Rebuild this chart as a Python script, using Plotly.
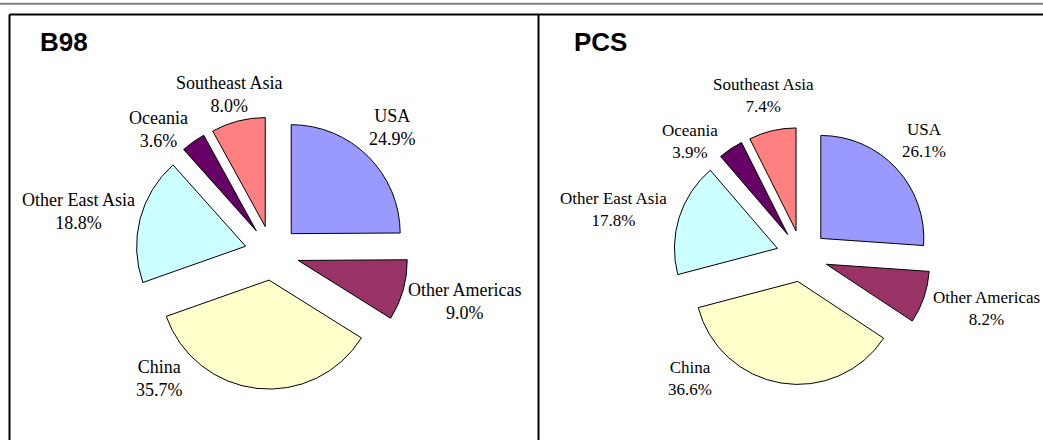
import math
import plotly.graph_objects as go

W, H = 1043, 440

regions = ["USA", "Other Americas", "China", "Other East Asia", "Oceania", "Southeast Asia"]
b98_share = [24.9, 9.0, 35.7, 18.8, 3.6, 8.0]
pcs_share = [26.1, 8.2, 36.6, 17.8, 3.9, 7.4]
slice_colors = ["#9999FF", "#993366", "#FFFFCC", "#CCFFFF", "#660066", "#FF8080"]
panel_titles = ["B98", "PCS"]

# ---- layout (pixels) ----
PULL = 0.25
panels = [
    dict(values=b98_share, title=panel_titles[0], cx=272, cy=253, r=109, font=18,
         title_x=38,
         lab_delta=[-0.8, -1.8, 35.6, -2.4, -7.3, -0.8],
         lab_dist=[174, 198, 168, 198, 168, 164]),
    dict(values=pcs_share, title=panel_titles[1], cx=802, cy=256, r=103, font=17,
         title_x=572,
         lab_delta=[-0.6, -3.0, 33.0, -3.5, -10.9, -0.1],
         lab_dist=[168, 192, 166, 194, 160, 165]),
]


def px_domain(cx, cy, r):
    half = r * (1 + PULL)
    return dict(x=[(cx - half) / W, (cx + half) / W],
                y=[1 - (cy + half) / H, 1 - (cy - half) / H])


fig = go.Figure()
annotations = []
for p in panels:
    vals = p["values"]
    fig.add_trace(go.Pie(
        labels=regions, values=vals, sort=False, direction="clockwise",
        rotation=0, pull=[PULL] * len(vals), automargin=False,
        marker=dict(colors=slice_colors, line=dict(color="black", width=1)),
        textinfo="none", hoverinfo="label+value", showlegend=False,
        domain=px_domain(p["cx"], p["cy"], p["r"]),
    ))
    # slice labels placed around each slice's mid-angle
    total = sum(vals)
    cum = 0.0
    for lab, v, dlt, dist in zip(regions, vals, p["lab_delta"], p["lab_dist"]):
        mid = (cum + v / 2) / total * 360.0
        cum += v
        ang = math.radians(mid + dlt)
        x = p["cx"] + dist * math.sin(ang)
        y = p["cy"] - dist * math.cos(ang)
        annotations.append(dict(
            text=f"{lab}<br>{v:.1f}%", xref="paper", yref="paper",
            x=x / W, y=1 - y / H, xanchor="center", yanchor="middle",
            align="center", showarrow=False,
            font=dict(family="Liberation Serif", size=p["font"], color="black")))
    annotations.append(dict(text=p["title"], xref="paper", yref="paper",
                            x=p["title_x"] / W, y=1 - 42 / H,
                            xanchor="left", yanchor="middle", showarrow=False,
                            font=dict(family="Liberation Sans", size=26,
                                      color="black", weight="bold")))

shapes = [
    dict(type="line", xref="paper", yref="paper", x0=0, x1=1,
         y0=1 - 3.8 / H, y1=1 - 3.8 / H, line=dict(color="#808080", width=2)),
    dict(type="line", xref="paper", yref="paper", x0=9.5 / W, x1=1,
         y0=1 - 14.5 / H, y1=1 - 14.5 / H, line=dict(color="black", width=2)),
    dict(type="line", xref="paper", yref="paper", x0=9.5 / W, x1=9.5 / W,
         y0=0, y1=1 - 14.5 / H, line=dict(color="black", width=2)),
    dict(type="line", xref="paper", yref="paper", x0=538.5 / W, x1=538.5 / W,
         y0=0, y1=1 - 14.5 / H, line=dict(color="black", width=2)),
]

fig.update_layout(width=W, height=H,
                  margin=dict(l=0, r=0, t=0, b=0, autoexpand=False),
                  paper_bgcolor="white", plot_bgcolor="white",
                  shapes=shapes, annotations=annotations)
fig.write_html("out.html", config={"displayModeBar": False},
               post_script="document.body.style.margin='0';"
                           "document.body.style.overflow='hidden';")
